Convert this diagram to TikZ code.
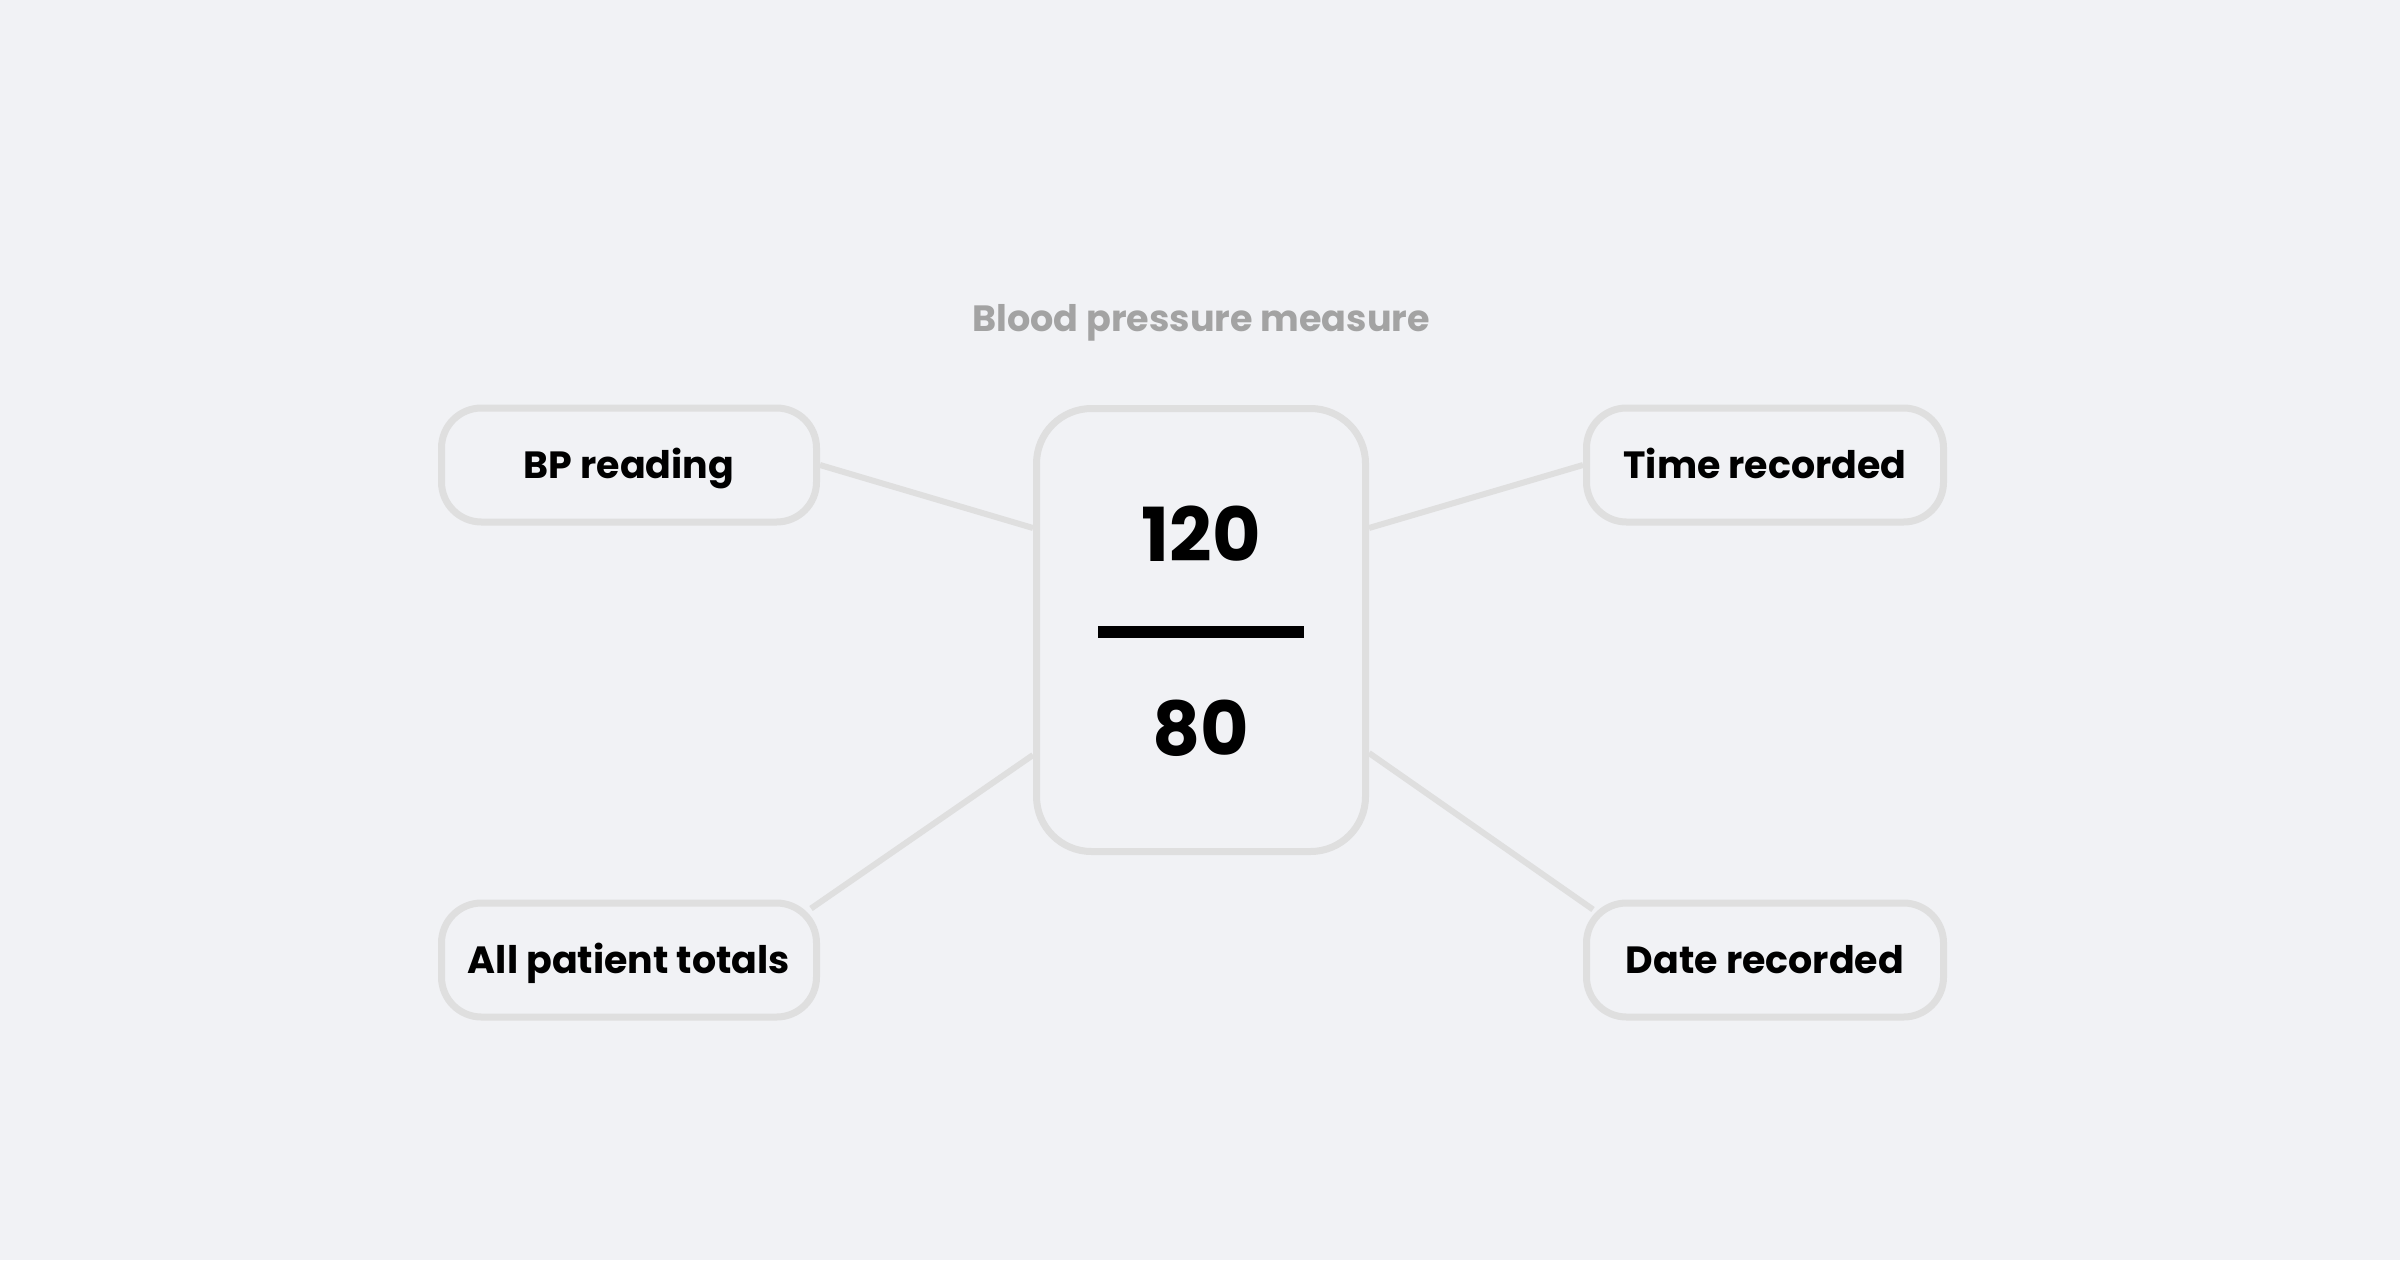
\documentclass[tikz,border=0pt]{standalone}
\usepackage{fontspec}
\setmainfont{Poppins}
\usepackage{tikz}
\usetikzlibrary{positioning}

\definecolor{pagebg}{HTML}{F1F2F5}
\definecolor{boxline}{HTML}{DFDFDF}
\definecolor{titlegray}{HTML}{A3A3A3}

\begin{document}
\begin{tikzpicture}[on grid,node distance=1cm,
  small box/.style={draw=boxline,line width=0.07cm,fill=pagebg,rounded corners=0.4cm,
    inner sep=0pt,minimum height=1.14cm,text height=0.27cm,text depth=0pt,
    font=\fontsize{10.8}{13}\selectfont\bfseries},
  left box/.style={small box,minimum width=3.75cm},
  right box/.style={small box,minimum width=3.57cm},
  link/.style={draw=boxline,line width=0.06cm}]

  \fill[pagebg] (0,0) rectangle (24,12.6);
  \useasboundingbox (0,0) rectangle (24,12.6);

  \node[draw=boxline,line width=0.07cm,fill=pagebg,rounded corners=0.55cm,
    minimum width=3.29cm,minimum height=4.43cm] (mid) at (12.01,6.30) {};

  \node[text height=0.26cm,text depth=0pt,inner sep=0pt,text=titlegray,
    font=\fontsize{10.4}{13}\selectfont\bfseries] (title) [above=3.12cm of mid] {Blood pressure measure};

  \node[left box] (bp) [above left=1.65cm and 5.72cm of mid] {BP reading};
  \node[right box] (time) [above right=1.65cm and 5.64cm of mid] {Time recorded};
  \node[left box] (totals) [below left=3.30cm and 5.72cm of mid] {All patient totals};
  \node[right box] (date) [below right=3.30cm and 5.64cm of mid] {Date recorded};

  \node[text height=0.52cm,text depth=0pt,inner sep=0pt,
    font=\fontsize{21.2}{25}\selectfont\bfseries] (sys) [above=0.945cm of mid] {120};
  \node[fill=black,inner sep=0pt,minimum width=2.06cm,minimum height=0.12cm] (bar) [below=0.02cm of mid] {};
  \node[text height=0.52cm,text depth=0pt,inner sep=0pt,
    font=\fontsize{21.2}{25}\selectfont\bfseries] (dia) [below=0.99cm of mid] {80};

  \path[link]
    (bp.east) -- ([yshift=1.02cm]mid.west)
    ([yshift=1.02cm]mid.east) -- (time.west)
    ([yshift=-1.25cm]mid.west) -- ([shift={(-0.09cm,-0.09cm)}]totals.north east)
    ([yshift=-1.23cm]mid.east) -- ([shift={(0.1cm,-0.1cm)}]date.north west);
\end{tikzpicture}
\end{document}
